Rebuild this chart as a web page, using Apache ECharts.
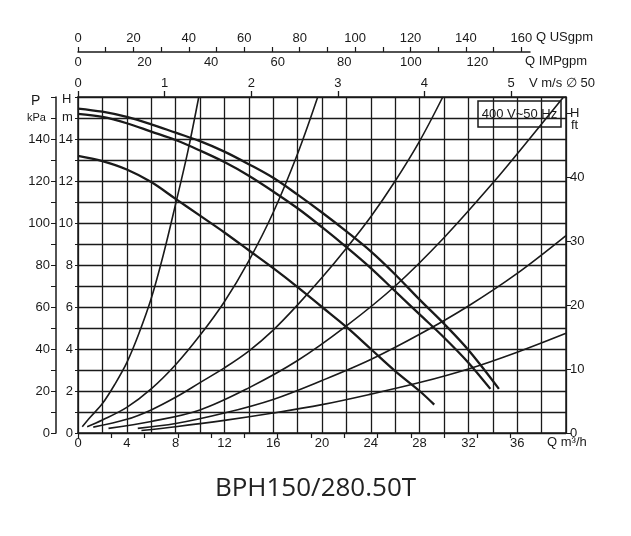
<!DOCTYPE html>
<html><head><meta charset="utf-8">
<script src="https://cdn.jsdelivr.net/npm/echarts@6/dist/echarts.min.js"></script>
<style>html,body{margin:0;padding:0;background:#fff}#c{width:631px;height:536px}</style>
</head><body><div id="c"></div>
<script>
// ---- data (Q in m3/h, H in m) ----
const pumpA = [[0,15.45],[2,15.3],[4,15.05],[6,14.7],[8,14.3],[10,13.9],[12,13.4],[14,12.8],[16,12.15],[18,11.35],[20,10.5],[22,9.6],[24,8.65],[26,7.55],[28,6.35],[30,5.2],[32,3.95],[34.5,2.1]];
const pumpB = [[0,15.2],[2,15.05],[4,14.75],[6,14.35],[8,13.95],[10,13.45],[12,12.9],[14,12.25],[16,11.5],[18,10.7],[20,9.8],[22,8.85],[24,7.85],[26,6.75],[28,5.65],[30,4.55],[32,3.35],[33.8,2.1]];
const pumpC = [[0,13.2],[2,12.95],[4,12.55],[6,11.95],[8,11.15],[10,10.35],[12,9.55],[14,8.7],[16,7.85],[18,6.95],[20,6.0],[22,5.05],[24,4.0],[26,2.95],[28,2.0],[29.2,1.35]];
const sys1 = [[0.35,0.3],[1,0.75],[2,1.4],[3,2.3],[4,3.35],[5,4.75],[6,6.4],[7,8.5],[8,10.9],[9,13.4],[9.9,16]];
const sys2 = [[0.75,0.3],[2,0.62],[4,1.22],[6,2.1],[8,3.25],[10,4.65],[12,6.25],[14,8.2],[16,10.5],[18,13.3],[19.65,16]];
const sys3 = [[1.25,0.28],[4,0.65],[6,1.1],[8,1.7],[10,2.4],[12,3.1],[14,3.9],[16,4.9],[18,6.1],[20,7.4],[22,8.8],[24,10.3],[26,12.0],[28,13.9],[29.9,16]];
const sys4 = [[2.5,0.22],[6,0.55],[10,1.1],[14,2.15],[18,3.45],[22,5.1],[26,7.0],[30,9.3],[34,11.9],[37,14.0],[39.8,16]];
const sys5 = [[4.9,0.22],[8,0.45],[12,0.95],[16,1.6],[20,2.5],[24,3.5],[28,4.7],[32,6.05],[36,7.6],[40,9.4]];
const sys6 = [[5.2,0.12],[8,0.3],[12,0.6],[16,0.95],[20,1.35],[24,1.85],[28,2.4],[32,3.05],[36,3.85],[40,4.75]];

// ---- tick labels ----
const qLabels = [0,4,8,12,16,20,24,28,32,36];
const hLabels = [0,2,4,6,8,10,12,14];
const pLabels = [0,20,40,60,80,100,120,140];
const ftLabels = [0,10,20,30,40,50];
const usLabels = [0,20,40,60,80,100,120,140,160];
const usTicks = [0,10,20,30,40,50,60,70,80,90,100,110,120,130,140,150,160];
const impLabels = [0,20,40,60,80,100,120];
const impTicks = [0,10,20,30,40,50,60,70,80,90,100,110,120,130];
const vLabels = [0,1,2,3,4,5];

// ---- scale constants ----
const Q_MAX = 40, H_MAX = 16;
const M_TO_FT = 1/0.3048;
const US_PER_M3H = 4.4029, IMP_PER_M3H = 3.6662, M3H_PER_MS = 7.1;
const Q_TOP_END = 37.05;

const FONT = "'Liberation Sans Narrow','Liberation Sans',sans-serif";
const INK = '#1a1a1a';
const lab = {fontFamily: FONT, fontSize: 13, color: INK};

const G = {left: 78, top: 97, width: 488, height: 336};

const chart = echarts.init(document.getElementById('c'), null, {renderer: 'canvas'});
const line = (d, w) => ({type: 'line', data: d, xAxisIndex: 0, yAxisIndex: 0, showSymbol: false, smooth: 0.35,
  lineStyle: {color: INK, width: w}, silent: true, animation: false});

chart.setOption({
  animation: false,
  title: {text: 'BPH150/280.50T', left: 'center', top: 471,
    textStyle: {fontFamily: "'Open Sans','Noto Sans',sans-serif", fontSize: 26, fontWeight: 'normal', color: '#222'}},
  grid: [
    {left: G.left, top: G.top, width: G.width, height: G.height},
    {left: G.left, top: G.top, width: G.width * Q_TOP_END / Q_MAX, height: G.height, show: false}
  ],
  xAxis: [
    {type: 'value', gridIndex: 0, min: 0, max: Q_MAX, interval: 2, position: 'bottom',
      axisLine: {show: true, onZero: false, lineStyle: {color: INK, width: 1.5}},
      axisTick: {show: false},
      splitLine: {show: true, lineStyle: {color: INK, width: 1.3}},
      axisLabel: Object.assign({margin: 4, customValues: qLabels}, lab)},
    {type: 'value', gridIndex: 0, min: 0, max: Q_MAX / M3H_PER_MS, position: 'top',
      axisLine: {show: true, onZero: false, lineStyle: {color: INK, width: 1.5}},
      axisTick: {show: true, length: 6, customValues: vLabels, lineStyle: {color: INK, width: 1.3}},
      splitLine: {show: false},
      axisLabel: Object.assign({margin: 7, customValues: vLabels}, lab)},
    {type: 'value', gridIndex: 1, min: 0, max: Q_TOP_END * US_PER_M3H, position: 'top', offset: 45,
      axisLine: {show: true, onZero: false, lineStyle: {color: INK, width: 1.5}},
      axisTick: {show: true, length: 5, customValues: usTicks, lineStyle: {color: INK, width: 1.2}},
      splitLine: {show: false},
      axisLabel: Object.assign({margin: 7, customValues: usLabels}, lab)},
    {type: 'value', gridIndex: 1, min: 0, max: Q_TOP_END * IMP_PER_M3H, position: 'top', offset: 45,
      axisLine: {show: false},
      axisTick: {show: true, inside: true, length: 5, customValues: impTicks, lineStyle: {color: INK, width: 1.2}},
      splitLine: {show: false},
      axisLabel: Object.assign({margin: 4, inside: true, customValues: impLabels}, lab)}
  ],
  yAxis: [
    {type: 'value', gridIndex: 0, min: 0, max: H_MAX, interval: 1, position: 'left',
      axisLine: {show: true, onZero: false, lineStyle: {color: INK, width: 1.5}},
      axisTick: {show: true, length: 3, lineStyle: {color: INK}},
      splitLine: {show: true, lineStyle: {color: INK, width: 1.3}},
      axisLabel: Object.assign({margin: 5, customValues: hLabels}, lab)},
    {type: 'value', gridIndex: 0, min: 0, max: H_MAX * 10, interval: 10, position: 'left', offset: 22,
      axisLine: {show: true, onZero: false, lineStyle: {color: INK, width: 1.5}},
      axisTick: {show: true, length: 5, lineStyle: {color: INK}},
      splitLine: {show: false},
      axisLabel: Object.assign({margin: 6, customValues: pLabels}, lab)},
    {type: 'value', gridIndex: 0, min: 0, max: H_MAX * M_TO_FT, position: 'right',
      axisLine: {show: true, onZero: false, lineStyle: {color: INK, width: 1.5}},
      axisTick: {show: true, length: 5, customValues: ftLabels, lineStyle: {color: INK}},
      splitLine: {show: false},
      axisLabel: Object.assign({margin: 4, customValues: ftLabels, formatter: v => v === 50 ? 'H' : String(v)}, lab)},
    {type: 'value', gridIndex: 1, min: 0, max: H_MAX, show: false}
  ],
  graphic: [
    {type: 'text', left: 31, top: 94, style: {text: 'P', font: '14px ' + FONT, fill: INK}},
    {type: 'text', left: 27, top: 112, style: {text: 'kPa', font: '11px ' + FONT, fill: INK}},
    {type: 'text', left: 62, top: 93, style: {text: 'H', font: '13px ' + FONT, fill: INK}},
    {type: 'text', left: 62, top: 111, style: {text: 'm', font: '13px ' + FONT, fill: INK}},
    {type: 'text', left: 571, top: 119, style: {text: 'ft', font: '13px ' + FONT, fill: INK}},
    {type: 'text', left: 547, top: 436, style: {text: 'Q m³/h', font: '13px ' + FONT, fill: INK}},
    {type: 'text', left: 536, top: 31, style: {text: 'Q USgpm', font: '13px ' + FONT, fill: INK}},
    {type: 'text', left: 525, top: 55, style: {text: 'Q IMPgpm', font: '13px ' + FONT, fill: INK}},
    {type: 'text', left: 529, top: 77, style: {text: 'V m/s ∅ 50', font: '13px ' + FONT, fill: INK}},
    {type: 'rect', shape: {x: 478, y: 101, width: 83, height: 26}, style: {fill: 'rgba(255,255,255,0)', stroke: INK, lineWidth: 1.5}},
    {type: 'text', x: 519.5, y: 114, style: {text: '400 V~50 Hz', font: '13px ' + FONT, fill: INK, textAlign: 'center', textVerticalAlign: 'middle'}}
  ],
  series: [
    line(pumpA, 2.3), line(pumpB, 2.3), line(pumpC, 2.3),
    line(sys1, 1.6), line(sys2, 1.6), line(sys3, 1.6), line(sys4, 1.6), line(sys5, 1.6), line(sys6, 1.6)
  ]
});
</script></body></html>
